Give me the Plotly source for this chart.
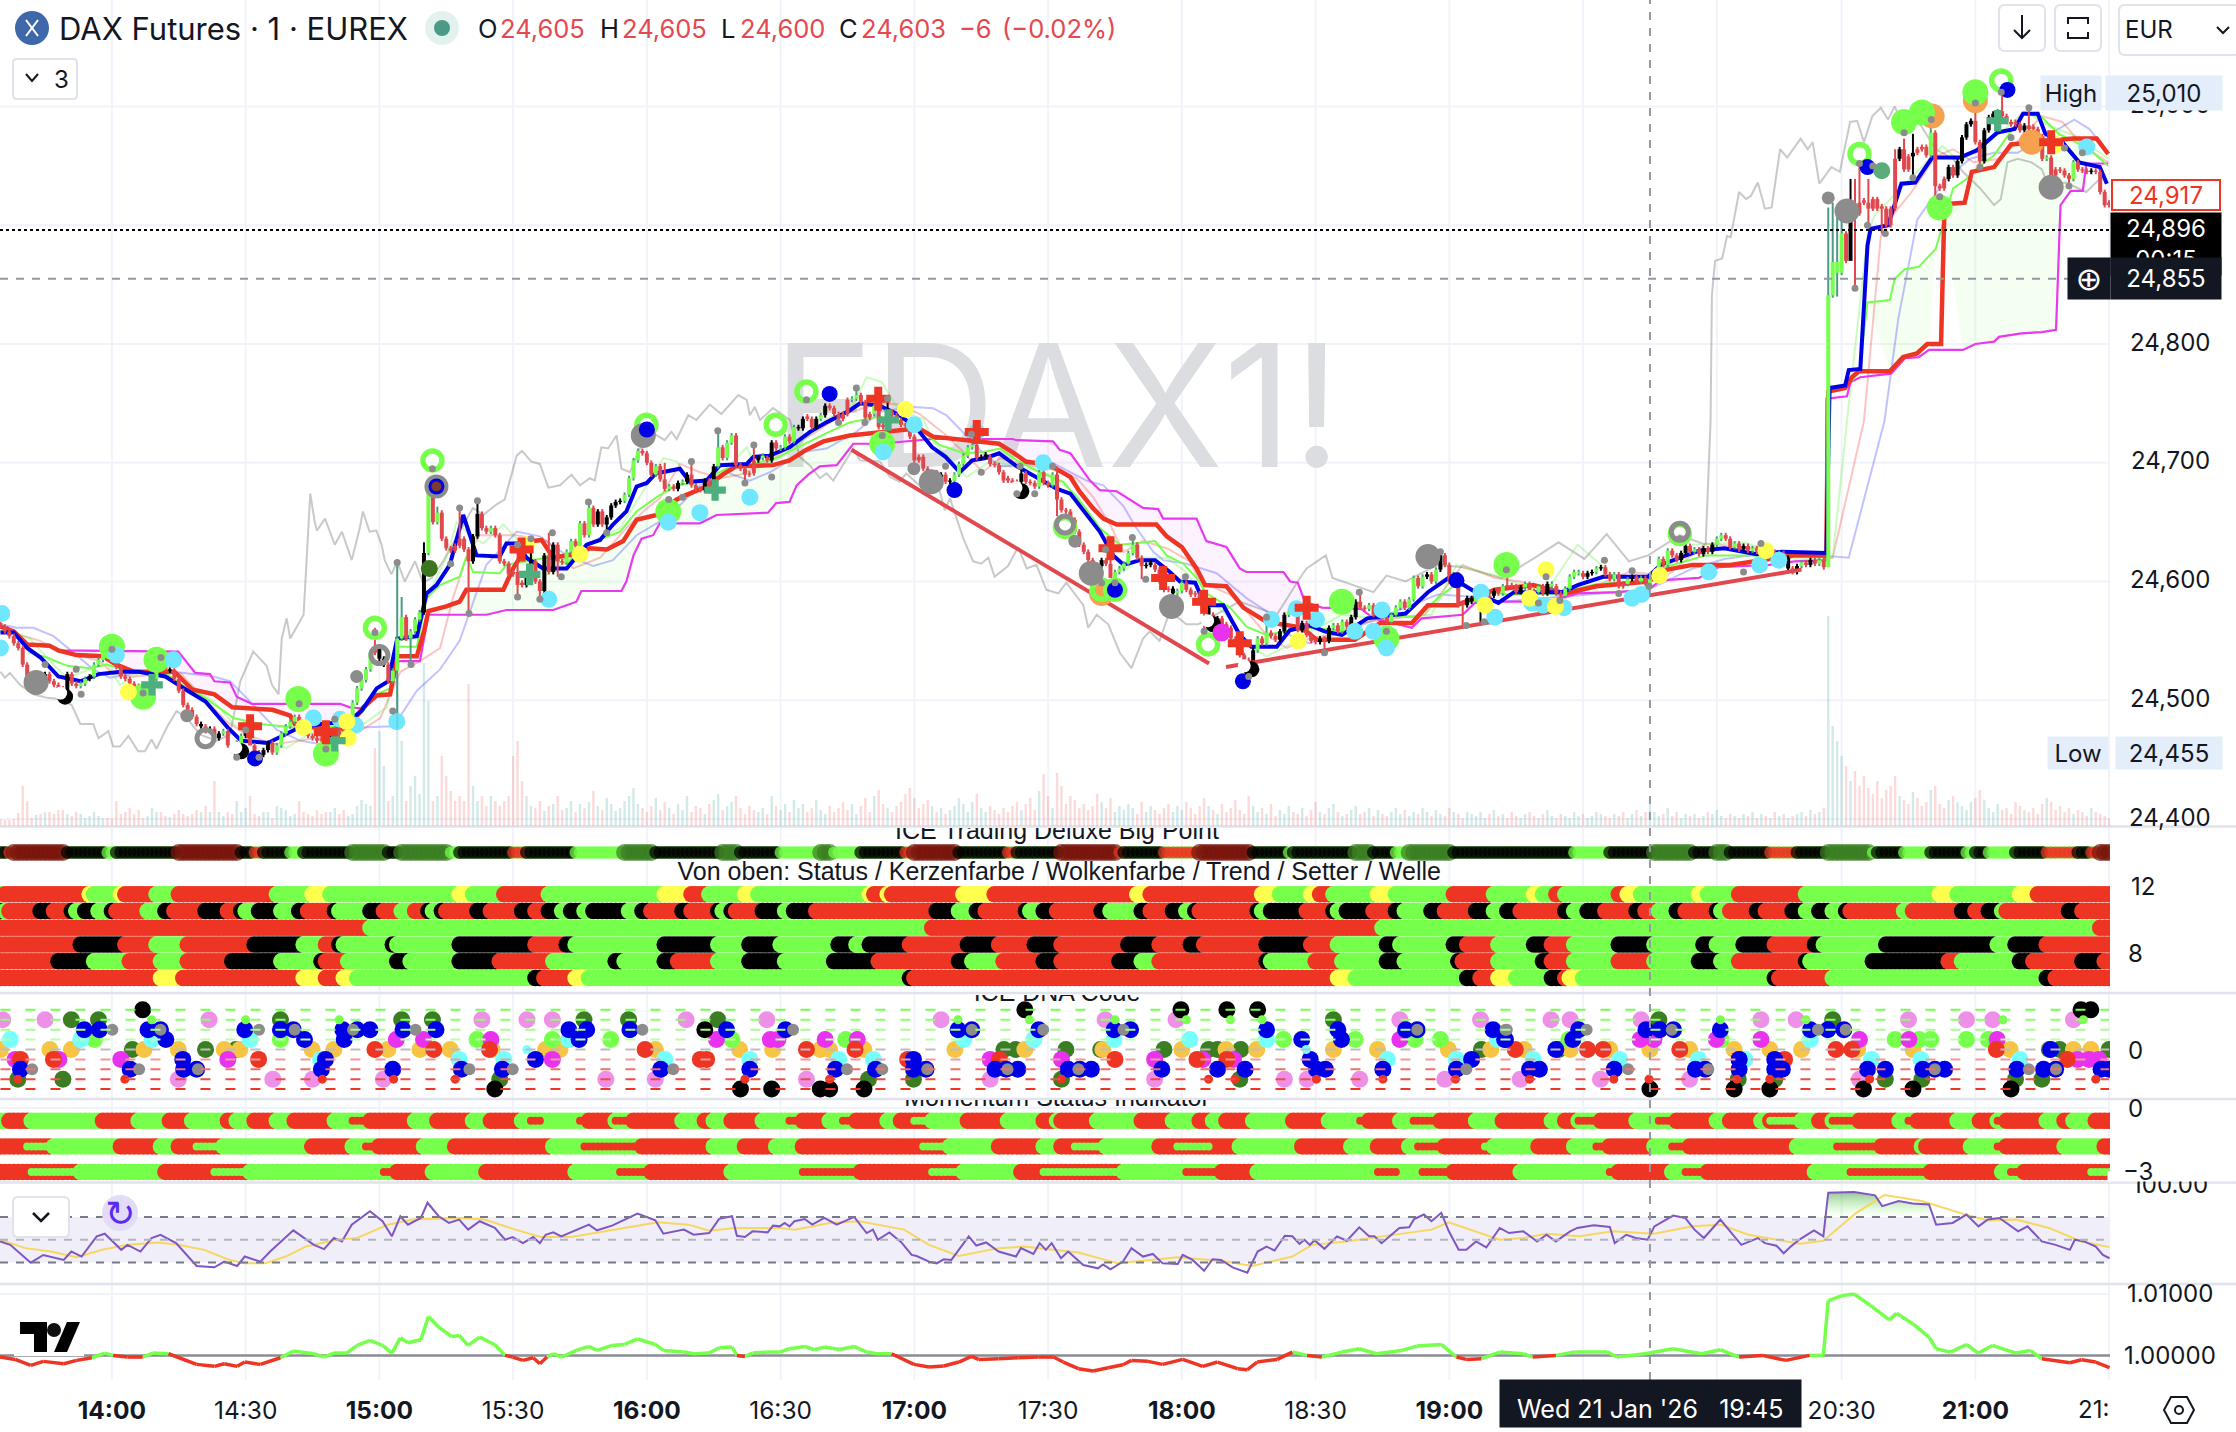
import plotly.graph_objects as go

# ---------- candles: (first minute after 14:00, closes, kinds r/g/k) ----------
candle_blocks = [
(-25,[24562,24558,24554,24548,24544,24530,24518,24515,24520,24518],"rrrrrrrrkr"),
(-15,[24522,24516,24513,24510,24508,24522,24514,24512,24514,24518],"krrrrkrrgg"),
(-5,[24520,24530,24534,24539,24541,24534,24528,24520,24518,24514],"kgggrrrrrr"),
(5,[24512,24510,24506,24510,24518,24526,24528,24526,24525,24518],"rrrgggrrkr"),
(15,[24508,24496,24492,24486,24480,24478,24474,24476,24468,24472],"rrrrrkrkrk"),
(25,[24474,24462,24458,24464,24470,24476,24462,24456,24454,24458],"grrkgkrrrk"),
(35,[24464,24456,24462,24472,24478,24482,24486,24480,24476,24470],"krgggggrrr"),
(45,[24468,24466,24468,24462,24470,24476,24470,24474,24484,24498],"rrrrkgrrgg"),
(55,[24510,24517,24526,24540,24545,24535,24530,24516,24525,24552],"ggggrkkrgg"),
(65,[24570,24552,24558,24568,24574,24624,24676,24650,24658,24636],"grgggkgrgr"),
(75,[24628,24626,24630,24636,24627,24617,24638,24657,24645,24642],"rrrrrrkkrr"),
(85,[24645,24639,24617,24615,24606,24608,24597,24597,24607,24617],"grrrrrrrkk"),
(95,[24600,24592,24622,24608,24631,24617,24616,24625,24634,24630],"rrkrkrrggr"),
(105,[24649,24639,24662,24648,24659,24648,24654,24664,24667,24668],"grgrkrkkkk"),
(115,[24673,24687,24702,24710,24708,24700,24690,24697,24686,24678],"ggggrrrgrr"),
(125,[24680,24678,24683,24684,24690,24681,24678,24677,24685,24678],"grkgkrrrkr"),
(135,[24697,24713,24704,24717,24723,24698,24695,24690,24691,24702],"kgrggrrrrr"),
(145,[24704,24704,24702,24717,24712,24713,24722,24718,24730,24729],"kgrkrggrgk"),
(155,[24737,24737,24730,24737,24740,24748,24746,24741,24737,24741],"krrkgkrrrr"),
(165,[24753,24754,24757,24751,24738,24741,24748,24730,24730,24743],"rggrrrgrrk"),
(175,[24740,24736,24732,24731,24722,24702,24705,24695,24691,24692],"rrrrrrrrrk"),
(185,[24681,24690,24684,24685,24690,24699,24706,24713,24715,24704],"rkrkgggggr"),
(195,[24705,24705,24699,24698,24692,24685,24685,24683,24684,24691],"kkrrrrrrrk"),
(205,[24684,24683,24680,24692,24683,24681,24690,24669,24660,24659],"rrrgrrgrrr"),
(215,[24652,24642,24631,24625,24618,24614,24613,24618,24615,24603],"rrrrrrrkrr"),
(225,[24608,24611,24615,24624,24631,24620,24613,24614,24614,24610],"gggggrrkkr"),
(235,[24600,24593,24594,24590,24592,24599,24593,24589,24590,24582],"rrrkggrrrr"),
(245,[24578,24572,24566,24569,24564,24561,24552,24547,24538,24534],"rkrkrrrrrr"),
(255,[24522,24542,24552,24548,24557,24554,24551,24558,24572,24575],"rkgrgrrkkg"),
(265,[24575,24559,24565,24555,24550,24549,24552,24550,24561,24563],"rrkrrrkrkg"),
(275,[24558,24566,24562,24570,24583,24578,24577,24580,24572,24578],"rgrkkrrgrg"),
(285,[24570,24566,24572,24578,24583,24578,24585,24603,24596,24604],"rrgggrggrg"),
(295,[24606,24600,24610,24622,24614,24600,24606,24580,24580,24586],"krgkrrgrrk"),
(305,[24583,24589,24586,24586,24588,24592,24590,24596,24597,24596],"kgkgrkrgrr"),
(315,[24591,24595,24598,24592,24591,24596,24590,24598,24596,24590],"rkgrrgrkgr"),
(325,[24588,24594,24604,24608,24607,24604,24607,24608,24611,24612],"rggggrkkgk"),
(335,[24606,24602,24606,24596,24598,24602,24604,24600,24603,24598],"rrgrrgkrgr"),
(345,[24602,24608,24619,24614,24626,24622,24618,24624,24630,24625],"gggrgrrkkr"),
(355,[24627,24623,24628,24625,24631,24636,24639,24636,24629,24632],"grkrkggrrg"),
(365,[24627,24630,24626,24628,24625,24628,24622,24625,24620,24624],"rkrgrgrkrg"),
(375,[24620,24611,24608,24613,24616,24614,24618,24615,24618,24612],"rkrkgrkrgr"),
(385,[24841,24869,24860,24893,24870,24914,24910,24919,24919,24914],"ggggrkrrrr"),
(395,[24922,24914,24914,24900,24914,24956,24964,24947,24958,24961],"rrrrrrkrrk"),
(405,[24964,24966,24959,24978,24933,24931,24939,24949,24942,24954],"rrrgrrrkrk"),
(415,[24974,24985,24988,24970,24954,24980,24991,24994,24996,24992],"kkkrrkkkgr"),
(425,[24987,24985,24985,24980,24984,24981,24981,24975,24956,24957],"rrrrkrrrrg"),
(435,[24942,24947,24946,24942,24939,24953,24947,24946,24945,24946],"rrrrrgrrrk"),
(445,[24945,24928,24917,24917],"rrrr"),
]
candle_highs = {64:24617,65:24587,59:24561,70:24633,71:24680,73:24663,78:24662,82:24668,91:24631,94:24636,98:24641,107:24669,124:24700,130:24701,136:24727,144:24715,167:24763,174:24754,194:24724,204:24697,212:24697,224:24627,229:24637,259:24570,280:24591,298:24625,313:24610,385:24915,386:24919,387:24911,388:24919,390:24939,391:24939,392:24952,394:24939,400:24964,402:24973,404:24977,408:24989,418:25003,424:25012,430:24999}
candle_lows = {48:24459,31:24462,64:24482,65:24550,67:24530,80:24573,91:24587,96:24585,100:24604,111:24641,142:24683,212:24655,204:24674,224:24603,231:24602,245:24558,255:24520,272:24540,303:24563,307:24566,385:24612,387:24840,390:24890,391:24847,394:24900,397:24893,404:24940,409:24924,419:24949,435:24938,439:24933}
volume_blocks = [
(-25,[7,6,6,7,13,40,25,8,11,12]),(-15,[14,14,12,16,16,12,10,14,12,8]),(-5,[10,14,10,8,8,8,25,12,14,18]),
(5,[12,16,8,10,18,14,14,10,9,12]),(15,[16,12,10,12,16,14,20,14,45,14]),(25,[10,14,12,25,14,18,30,12,10,14]),
(35,[14,8,20,18,16,10,12,25,14,12]),(45,[10,16,12,14,14,18,12,16,10,12]),(55,[20,26,22,20,78,95,60,25,30,150]),
(65,[85,25,40,50,32,163,125,25,30,70]),(75,[50,35,25,30,25,142,40,25,30,20]),(85,[30,25,20,25,30,70,85,45,30,20]),
(95,[18,25,15,20,22,30,16,18,25,14]),(105,[22,18,24,35,20,16,28,22,15,18]),(115,[25,30,38,22,18,14,20,28,16,24]),
(125,[18,12,22,16,30,14,20,18,12,22]),(135,[26,32,16,20,24,30,18,12,20,16]),(145,[14,18,12,30,20,16,22,14,26,18]),
(155,[22,14,18,26,16,12,20,14,18,24]),(165,[16,22,12,20,28,14,30,36,22,18]),(175,[14,20,24,32,38,28,18,22,26,20]),
(185,[14,18,12,16,20,28,22,14,24,32]),(195,[18,14,20,16,12,18,14,20,24,16]),(205,[22,28,16,35,52,30,18,53,40,22]),
(215,[30,26,18,22,16,20,32,24,18,28]),(225,[14,20,16,22,18,12,24,14,20,16]),(235,[12,18,22,14,20,16,24,18,12,20]),
(245,[28,20,16,12,22,14,18,26,16,12]),(255,[30,20,14,18,12,22,10,16,12,20]),(265,[14,12,18,10,16,24,14,12,18,22]),
(275,[14,10,12,16,20,12,14,18,10,16]),(285,[12,10,14,18,12,16,10,14,12,18]),(295,[14,10,16,12,10,18,14,12,8,14]),
(305,[12,10,14,8,12,16,10,12,8,14]),(315,[10,8,12,14,10,8,12,16,10,8]),(325,[12,10,8,14,10,12,8,10,14,12]),
(335,[10,8,12,10,14,8,12,16,10,14]),(345,[22,14,10,12,18,10,14,8,12,10]),(355,[12,8,10,14,12,16,10,8,12,10]),
(365,[8,12,10,14,8,12,10,8,14,10]),(375,[12,8,10,12,14,10,16,12,14,18]),(385,[210,100,85,70,60,45,55,40,50,38]),
(395,[32,45,28,36,40,50,30,26,22,34]),(405,[28,20,24,36,40,22,18,26,30,24]),(415,[20,16,24,28,36,26,18,14,22,16]),
(425,[18,12,24,20,16,14,18,12,22,28]),(435,[24,16,20,14,18,12,16,14,10,18]),(445,[14,12,10,8]),
]
# ---------- indicator lines (minute, price) ----------
blue_line = [(-25,24557),(-22,24557),(-19,24544),(-16,24536),(-12,24520),(-7,24516),(-3,24522),(2,24524),(6,24524),(12,24520),(17,24508),(21,24499),(26,24477),(29,24466),(35,24464),(39,24471),(42,24477),(47,24480),(53,24482),(56,24491),(59.4,24510),(62,24516),(64,24552),(68.4,24554),(70.6,24590),(72.8,24597),(75.8,24614),(78.8,24656),(80.3,24639),(81.8,24622),(87,24621),(88.5,24632),(90.8,24632),(93,24620),(96.7,24611),(102,24611),(106.5,24631),(109.5,24635),(112.4,24648),(115.4,24659),(117.7,24680),(120,24683),(122,24691),(127.4,24695),(129.6,24684),(133.4,24685),(136.4,24698),(142.4,24699),(143.9,24705),(147.6,24706),(152,24713),(156.6,24726),(160.3,24734),(165.5,24744),(167.8,24750),(172.2,24748),(176.7,24740),(180.5,24729),(184,24713),(187,24705),(190.2,24692),(193,24702),(196,24704),(199,24708),(203,24697),(207.4,24688),(212,24678),(215,24674),(218.6,24656),(221.6,24642),(224.6,24622),(227,24614),(230.6,24618),(234,24618),(237.3,24608),(239.6,24600),(243,24599),(245.2,24580),(249.3,24580),(253,24555),(255.6,24545),(261.3,24545),(264.2,24559),(268.7,24563),(272,24558),(275.9,24555),(281.6,24569),(290.2,24573),(295.2,24591),(300.2,24604),(305.9,24591),(311,24582),(314.5,24591),(325.3,24591),(328.8,24597),(334.5,24604),(344.6,24604),(347.4,24614),(356,24626),(361.7,24628),(368.9,24623),(374.6,24625),(384.6,24624),(385.3,24763),(388.8,24765),(389.6,24778),(392.2,24779),(393.8,24883),(394.5,24897),(398.4,24900),(401.4,24935),(404.5,24936),(408.3,24957),(414.5,24957),(418.3,24963),(422.9,24978),(426.8,24981),(428.7,24994),(432,24994),(433.7,24977),(437.5,24970),(441.3,24953),(445.9,24949),(447.5,24935)]
red_line = [(-25,24562),(-22,24558),(-19,24547),(-14,24546),(-12,24542),(-8,24538),(-2,24537),(1,24530),(5,24524),(14,24524),(18,24509),(23,24505),(27,24494),(36,24492),(40,24487),(41,24480),(49,24475),(53,24477),(56.4,24494),(59.4,24504),(62.4,24505),(64,24537),(68.4,24537),(70,24558),(71,24575),(75,24579),(78,24583),(79.5,24593),(87.8,24593),(90,24611),(92.3,24625),(94.5,24634),(96.4,24635),(99,24620),(105,24624),(107.2,24628),(111,24627),(114.7,24634),(117.7,24652),(122.2,24656),(124.4,24663),(126.7,24669),(128.9,24673),(133.4,24680),(137,24690),(140,24697),(148.3,24698),(152,24702),(155.8,24711),(159.6,24718),(165.5,24723),(173,24726),(181,24729),(184.2,24722),(199,24716),(202,24709),(205,24701),(210.4,24698),(215,24688),(217,24676),(220,24662),(222.4,24653),(225.4,24648),(234.3,24648),(236.6,24638),(240,24629),(243.3,24611),(245.2,24597),(250,24596),(253.8,24578),(259,24566),(265.7,24562),(268,24558),(270.2,24551),(278.8,24551),(284.5,24565),(291.6,24565),(295.2,24580),(301.6,24580),(310.2,24593),(318.8,24597),(326,24590),(333,24596),(344.6,24600),(348.9,24610),(354.6,24614),(363,24614),(377.5,24622),(384.6,24622),(385,24760),(388.8,24763),(390.3,24772),(391.9,24777),(398.8,24777),(401.8,24789),(404.9,24792),(407.2,24800),(410.3,24800),(411,24905),(411.8,24918),(415.6,24919),(417.2,24945),(422.2,24949),(426,24968),(439.8,24973),(445.2,24973),(447.8,24960)]
magenta_line = [(-23.6,24562),(-19,24547),(-14,24545),(-11.6,24542),(14.9,24541),(18.7,24523),(22,24522),(23,24516),(26.5,24515),(28,24503),(31.4,24497),(51.2,24497),(53.4,24494),(56.4,24493),(59.4,24505),(62.4,24505),(64.3,24533),(69.1,24533),(71,24572),(84,24572),(88.5,24576),(99,24576),(102,24580),(104.2,24583),(105.3,24592),(114.3,24592),(115.4,24600),(117,24622),(118.8,24636),(121.4,24639),(122.9,24649),(131.9,24649),(135.6,24656),(147.2,24658),(149,24666),(152,24667),(153.6,24681),(156.2,24690),(158.8,24697),(162.6,24698),(166.3,24716),(172.3,24716),(184,24720),(202,24720),(203,24719),(211.1,24718),(212.6,24711),(215,24708),(219.4,24685),(221.6,24677),(225.4,24676),(231.3,24662),(234.7,24661),(235.8,24653),(243.3,24653),(245.5,24634),(250,24629),(253,24611),(254.5,24608),(262.8,24608),(264.3,24600),(266,24599),(267.6,24583),(271.4,24578),(280.2,24577),(283,24569),(291.6,24561),(293.8,24569),(303,24572),(306,24583),(321.7,24583),(328.8,24590),(337.4,24591),(344.6,24593),(347.4,24601),(356,24603),(360.3,24612),(371.8,24614),(377.5,24617),(384.4,24618),(384.6,24754),(389.2,24756),(390,24768),(392.2,24772),(399.1,24775),(402.2,24788),(405.3,24789),(407.6,24795),(415.2,24795),(418,24800),(422.2,24802),(423.3,24806),(428.3,24809),(432.9,24810),(436.1,24812),(437.1,24917),(439.4,24929),(442.1,24929),(442.9,24952),(447.8,24952)]
green_line = [(-25,24558),(-22,24558),(-18.4,24540),(-14.6,24536),(-10,24529),(-4.9,24527),(-1.2,24530),(2.6,24526),(12.3,24522),(16.8,24510),(20.5,24503),(23.5,24495),(27.3,24485),(33.2,24480),(40.7,24477),(46.7,24475),(52.7,24481),(55.7,24488),(59.4,24505),(62.4,24510),(64,24545),(68.4,24545),(70.6,24586),(73.6,24597),(78,24604),(79.5,24621),(81,24608),(87,24607),(88.5,24614),(97.5,24620),(102,24615),(106.5,24631),(114,24642),(117.7,24659),(122.2,24671),(126.7,24681),(131.9,24684),(137.9,24695),(143.9,24699),(149,24704),(155,24715),(160.3,24725),(165.5,24734),(172.2,24739),(176.7,24734),(182,24726),(185.7,24715),(191,24708),(195.4,24709),(199.2,24712),(203,24702),(208.2,24692),(213.4,24684),(217.9,24664),(221.6,24645),(226.1,24631),(229,24632),(234,24634),(236.6,24622),(240.3,24615),(243.3,24603),(245.5,24590),(250.8,24578),(254.5,24562),(259,24555),(264.2,24559),(268.7,24561),(277.3,24558),(283,24572),(293,24570),(297.4,24586),(301.6,24598),(306,24593),(313,24589),(324.5,24590),(333,24598),(343.2,24600),(347.4,24611),(357.5,24622),(368.9,24622),(377.5,24622),(384.7,24622),(385,24761),(389,24764),(392,24777),(393.8,24835),(398.8,24837),(399.9,24855),(402.2,24863),(405.3,24865),(409.1,24880),(411,24905),(413,24931),(416,24939),(419,24950),(422.2,24959),(425.2,24975),(429,24995),(432.9,24991),(436.7,24977),(440.6,24970),(444.4,24961),(447.8,24950)]
lavender_line = [(-25,24564),(-21.4,24561),(-17.6,24561),(-13.1,24554),(-7.9,24538),(-4.2,24526),(-0.4,24519),(5.6,24523),(13.8,24524),(22.8,24520),(26.5,24516),(30.2,24502),(37,24475),(42.2,24466),(46.7,24463),(52,24468),(55.7,24477),(63.2,24478),(68.4,24508),(73.6,24526),(78,24550),(84,24614),(90.8,24642),(96,24638),(102,24622),(108,24613),(112.4,24618),(117.7,24639),(122.2,24649),(125.2,24656),(131.9,24681),(137.9,24692),(143.1,24685),(147.6,24692),(155,24709),(160.3,24712),(167,24726),(172.3,24743),(179.7,24747),(184.2,24746),(187.2,24740),(191.7,24723),(194.7,24711),(199.2,24697),(202.9,24697),(210.4,24701),(214.1,24694),(218.6,24685),(222.4,24681),(226.8,24664),(229.8,24645),(233.6,24625),(235.8,24618),(241,24615),(247.8,24607),(254.5,24586),(259,24575),(265,24552),(268.7,24548),(278,24560),(297.4,24589),(306,24587),(311.7,24583),(321.7,24586),(333,24589),(344.6,24593),(354.6,24611),(361.7,24619),(373.2,24625),(389.6,24620),(397.6,24735),(400.7,24821),(405,24905),(411.4,24939),(416.8,24956),(422.2,24961),(427.5,24961),(440.2,24989),(443.6,24981),(447.8,24961)]
salmon_line = [(-25,24561),(-20.6,24555),(-16.1,24550),(-12.4,24543),(-7.9,24538),(-2.7,24533),(0.3,24522),(4.8,24520),(15.3,24523),(19.8,24505),(25.8,24482),(30.2,24471),(36.2,24463),(42.2,24466),(49.7,24471),(55.7,24474),(60.2,24485),(64.7,24524),(69.1,24533),(73.6,24544),(76.5,24586),(79.5,24620),(82.5,24639),(90.8,24639),(97.5,24634),(103.5,24611),(109.5,24620),(115.4,24645),(119.2,24659),(122.9,24670),(127.4,24699),(131.9,24692),(136.4,24687),(140.9,24690),(147.6,24702),(152.8,24715),(158,24726),(163.3,24740),(172.3,24750),(176.7,24749),(181.2,24741),(187.2,24723),(191,24709),(195.4,24692),(199.2,24704),(205.2,24698),(211.1,24694),(216.4,24687),(220.1,24671),(223.9,24648),(226.9,24625),(231.3,24634),(236.6,24628),(241.8,24617),(244,24600),(250.8,24589),(253.8,24578),(259,24555),(263.5,24544),(268.7,24552),(273,24555),(281.6,24566),(294.5,24572),(303,24614),(310.2,24603),(316,24600),(326,24586),(340.3,24608),(348.9,24605),(357.5,24632),(368.9,24628),(377.5,24622),(386,24620),(393,24735),(396.8,24891),(400,24911),(403.7,24928),(409.1,24958),(413,24964),(417.6,24953),(423.7,24956),(432.9,24992),(437.5,24987),(442.1,24967),(447.8,24953)]
pale_green_line = [(-25,24561),(-18.4,24552),(-13.9,24533),(-10.1,24519),(-4.2,24527),(-1.2,24531),(1.8,24513),(6.3,24523),(13.8,24523),(22.8,24499),(27.3,24480),(33.2,24464),(39.2,24460),(46.7,24477),(52.7,24477),(56.4,24480),(61.7,24494),(64,24550),(68.4,24552),(70.7,24586),(75.2,24622),(77.3,24650),(80.3,24639),(83.3,24632),(87.8,24648),(90.8,24636),(97.5,24606),(102,24617),(108,24634),(114,24645),(120,24681),(123.7,24704),(126.7,24701),(130.4,24681),(136.4,24690),(142.4,24713),(144.6,24695),(149.8,24704),(155,24718),(160.3,24737),(165.5,24743),(169.3,24772),(172.7,24768),(176.7,24743),(182,24737),(184.2,24718),(191.7,24688),(197,24701),(202.2,24698),(210.4,24690),(216.4,24673),(221.6,24645),(226.9,24608),(230.6,24620),(236.6,24620),(241,24608),(244,24592),(250,24572),(254.5,24547),(259,24537),(264.2,24547),(269.5,24559),(275.9,24572),(283,24569),(296,24572),(301.6,24614),(310.2,24605),(321.7,24591),(328.8,24631),(337.4,24603),(346,24603),(354.6,24631),(366,24633),(377.5,24619),(386,24620),(389.2,24735),(393.8,24891),(395.3,24908),(410.6,24967),(414.5,24953),(423.7,24978),(429,24996),(434.4,24984),(440.6,24975),(447.8,24956)]
gray_line = [(-25,24524),(-24,24519),(-22.9,24523),(-20.6,24513),(-17.6,24505),(-14.6,24502),(-11.6,24501),(-9,24496),(-7.1,24480),(-4.2,24480),(-3,24468),(-0.8,24474),(0.3,24461),(1.8,24461),(3.7,24470),(5.9,24457),(7.4,24457),(8.9,24467),(10,24459),(12.3,24477),(14.5,24491),(16.8,24485),(19.8,24471),(23.5,24466),(26.5,24471),(28.8,24516),(31.7,24541),(34.7,24529),(35.9,24513),(37.4,24505),(38.1,24552),(39.2,24569),(40,24552),(43,24572),(44.5,24674),(45.5,24650),(46,24643),(47.8,24653),(50,24631),(51.6,24642),(53.8,24618),(55.6,24645),(56.3,24659),(57.8,24642),(59.3,24643),(60.5,24631),(61.2,24618),(62.7,24606),(64,24617),(65.7,24600),(68,24617),(69.8,24599),(71.7,24603),(74.3,24617),(78,24642),(81,24662),(83.3,24656),(86.3,24665),(88.1,24669),(90.8,24706),(92,24710),(94.1,24701),(96,24699),(97.9,24679),(100.5,24681),(103.1,24690),(105,24681),(107.2,24687),(108.3,24685),(109.8,24713),(111.3,24712),(113.2,24723),(114.3,24695),(116.2,24692),(118.4,24712),(121.4,24725),(124,24719),(125.5,24726),(126.7,24720),(129.3,24740),(131.1,24736),(134.1,24749),(136.7,24741),(140.5,24757),(142.4,24753),(143.1,24740),(144.2,24747),(145.4,24736),(148.3,24746),(152.1,24736),(154.3,24705),(156.5,24698),(158.8,24687),(160.3,24691),(161.8,24685),(166.3,24712),(167.8,24702),(172.3,24701),(174.5,24688),(176.7,24684),(178.2,24691),(182,24678),(185.7,24676),(186.8,24660),(188,24670),(191,24636),(193.2,24617),(195,24615),(196.6,24620),(198,24604),(201,24613),(203.3,24629),(205.2,24611),(207.4,24614),(209.6,24593),(212.3,24590),(214.1,24599),(217.9,24580),(219,24561),(220.9,24572),(223.5,24564),(226.1,24540),(228.7,24527),(231.3,24552),(232.8,24558),(235,24550),(237.3,24575),(241,24564),(243.7,24564),(253,24583),(256.8,24578),(261.3,24572),(266.5,24603),(268,24611),(272.3,24622),(273.8,24603),(283,24591),(285.9,24605),(290.2,24600),(297.4,24614),(303,24612),(311.7,24603),(318.8,24619),(324.5,24633),(330.3,24619),(335.3,24640),(340.3,24617),(344.6,24622),(351.7,24639),(357.5,24631),(358.6,24735),(358.9,24841),(359.6,24870),(361.2,24872),(362.3,24891),(363.1,24890),(365,24928),(366.6,24922),(367.7,24925),(369.2,24936),(370.8,24914),(372.3,24915),(374.2,24964),(375.8,24957),(378.8,24973),(380.4,24964),(381.5,24970),(383,24935),(385.7,24949),(387.6,24945),(389.9,24987),(391.5,24988),(393,24970),(394.9,24992),(396.8,24999),(398.4,24989),(399.9,25000),(402.2,24981),(405.3,24987),(409.1,24964),(413,24956),(415.2,24945),(419.1,24931),(422.2,24917),(423.7,24922),(425.2,24953),(427.5,24956),(430.6,24953),(432.9,24947),(434.4,24933),(438.2,24936),(442.9,24928),(446.7,24942)]
trend_down = [(165.9,24711),(246.1,24531)]
trend_up = [(249.9,24528),(379,24610)]
# ---------- main-pane signals (minute, price) ----------
sig_lime = [(0,24545),(10,24534),(7,24503),(41.8,24501),(48,24455),(124.8,24659),(172.8,24716),(275.9,24583),(285.9,24552),(312.8,24614),(402,24987),(406,24995),(418,25012),(410,24915)]
sig_lime_ring = [(59,24561),(71.9,24702),(119.9,24732),(148.9,24732),(155.8,24760),(245.9,24547),(222,24593),(225,24593),(213.8,24646),(351.7,24640),(392,24960),(423.8,25022)]
sig_gray_ring = [(60,24538),(21,24468),(213.8,24648),(351.7,24642)]
sig_orange = [(408.3,24992),(418,25005),(430.6,24970),(222,24590)]
sig_blue = [(32.1,24451),(72.8,24680),(120,24728),(161,24758),(189,24677),(225,24593),(253.7,24516),(301.6,24601),(393.8,24949),(425.2,25014)]
sig_gray = [(-17,24515),(119.2,24723),(183.8,24684),(219.7,24607),(237.7,24579),(295.2,24621),(435,24932),(389.2,24912)]
sig_gray_halo = [(72.8,24680)]
sig_dark_red = [(72.8,24680)]
sig_gray_mid = [(16.8,24487),(54.9,24520),(179.9,24695),(216,24634),(385,24923)]
sig_cyan = [(-24.7,24573),(-25,24544),(1,24538),(13.8,24534),(45.2,24485),(51.2,24484),(54.6,24479),(63.9,24482),(98,24585),(124.8,24650),(131.9,24658),(143.1,24671),(173,24709),(180,24732),(194,24726),(208.9,24700),(260.1,24568),(265.7,24577),(270.2,24568),(278.8,24558),(284.9,24576),(283,24558),(285.9,24544),(307.1,24591),(310.2,24570),(318.5,24582),(321,24580),(325.7,24578),(341,24586),(343.1,24589),(358.2,24608),(369.6,24614),(373.9,24618),(443,24966)]
sig_yellow = [(3.7,24507),(43,24477),(53,24468),(52.7,24482),(93,24631),(105,24623),(178,24745),(266.1,24550),(321.7,24610),(308,24580),(318,24586),(323.8,24579),(347.2,24605),(371,24626),(436,24968)]
sig_red_cross = [(31,24478),(48,24473),(91.9,24627),(171.9,24754),(194,24726),(224,24628),(235.8,24603),(245,24583),(268,24578),(253,24548),(435,24970)]
sig_green_cross = [(9,24513),(50,24466),(93.7,24606),(135.3,24677),(174.1,24736),(423,24988)]
sig_dark_green = [(71.2,24611)]
sig_mid_green = [(397,24946)]
sig_black = [(-10.5,24503),(29,24457),(204,24676),(247,24564),(255.6,24526)]
sig_black_cut = [(-11.5,24506),(27.8,24460),(202.8,24679),(245.8,24567),(254,24529)]
sig_magenta = [(248.9,24557)]
sig_small_gray = [(-15,24530),(-8,24526),(-6.9,24505),(0,24543),(11,24536),(7,24506),(28,24452),(30,24475),(33,24452),(42,24497),(48,24459),(50,24484),(59,24557),(64,24616),(63,24491),(67.1,24530),(76,24615),(80.1,24573),(91,24587),(91,24631),(71.9,24695),(78,24662),(82,24668),(94,24636),(96,24585),(98.8,24641),(100.8,24604),(106.9,24667),(111,24641),(124.9,24669),(128,24671),(130,24701),(135.9,24727),(142,24683),(144,24715),(148,24688),(155.8,24753),(167,24763),(163,24734),(168.9,24734),(172.8,24723),(174,24754),(192.8,24724),(195,24692),(187,24697),(203.7,24697),(203,24674),(207,24674),(211,24697),(222.9,24627),(228.9,24637),(225,24599),(222,24599),(231.9,24602),(240.8,24604),(236,24581),(245,24558),(255,24520),(259,24570),(272,24540),(279.8,24591),(285.9,24558),(298,24625),(312.8,24610),(303.8,24563),(307.8,24566),(320,24582),(321.7,24604),(324.8,24584),(334.8,24618),(338,24590),(341,24609),(344.8,24596),(351.7,24636),(369.9,24632),(366,24608),(391,24847),(392,24952),(393.8,24900),(395,24950),(397.8,24893),(402,24978),(404,24940),(408.1,24989),(410,24924),(418,25003),(419,24949),(423.8,25012),(426,24974),(430,24999),(435,24938),(438,24965),(439,24933),(442,24961)]
# ---------- status rows: (colour code, last minute of the run) ----------
big_point = [('k',-23.4),('r',-22.6),('d',-10.8),('k',-1.6),('l',0.1),('k',14.9),('d',28.4),('k',31.5),('r',33.8),('k',39.5),('l',42.6),('k',53.3),('g',61.3),('k',64.1),('g',75.6),('l',77.9),('k',89.3),('r',92.7),('k',95.3),('k',103.3),('l',114.3),('g',121.6),('k',136.2),('g',140.2),('k',149.4),('l',157.6),('g',157.6),('l',158.2),('g',161.7),('l',167.7),('k',177.5),('r',179.3),('d',189.3),('k',200.1),('r',202.5),('k',206.3),('r',206.8),('k',212),('d',225.9),('r',226.6),('k',235.1),('r',243.1),('d',255.7),('k',263.3),('l',264.7),('k',275.3),('l',275.6),('k',278.2),('g',282),('k',287.2),('l',290.2),('g',300),('k',303.1),('l',303.6),('k',327.3),('l',335.4),('k',345.9),('g',354.3),('k',359.2),('g',362.3),('k',366.3),('r',366.8),('k',371.2),('r',377.8),('k',384),('g',394.7),('l',395.8),('k',401.1),('l',407.6),('k',415.3),('l',417.8),('k',420.3),('l',426.7),('k',433.3),('r',440.7),('k',443.2),('r',445.3),('d',449)]
row1 = [('l',-24.5),('r',-5.6),('y',-4.5),('l',1.8),('y',2.4),('r',9.2),('l',14.4),('r',36.7),('l',44.7),('y',48.1),('l',77.3),('y',80.7),('l',87.6),('r',97.3),('l',123.6),('y',129.4),('r',133.4),('l',141.4),('y',144.2),('l',169.7),('y',170.3),('r',173.9),('y',174.4),('r',190.9),('y',197),('r',229),('y',232.3),('r',257.8),('y',261.1),('l',268.6),('y',270.4),('r',273.2),('l',283.5),('y',287.2),('l',300.5),('r',309.8),('l',318.6),('y',320.2),('l',323.5),('r',325.5),('l',337.5),('r',339.7),('y',342.4),('l',355.7),('y',357.2),('l',364.5),('r',379.6),('l',409.6),('y',413.3),('l',427.7),('y',431.3),('r',449)]
row2 = [('k',-24.2),('l',-24),('r',-16.2),('k',-13.7),('r',-9.1),('k',-8.3),('l',-6.8),('k',-3.4),('l',-0.5),('k',0.6),('r',7.9),('l',11.3),('k',13.8),('r',20.7),('k',25.2),('r',28.7),('k',29.8),('l',32.3),('k',37.8),('l',41.3),('k',43.5),('r',49.8),('k',50.6),('l',57),('k',60.1),('r',64.7),('l',67.3),('r',70.8),('k',71.7),('l',73.3),('k',74.4),('r',81.9),('k',84.2),('r',91.6),('k',94.5),('r',97.9),('k',100.8),('l',102.2),('k',105.9),('l',107.4),('k',115.6),('l',118.2),('k',120.4),('r',127.6),('k',129.9),('r',135.7),('k',136.8),('l',138.3),('k',139.7),('r',145.9),('k',150),('l',152.2),('k',157.4),('r',184.7),('k',189.8),('l',193.4),('k',195.3),('r',204.8),('k',205.6),('l',208.4),('k',211.5),('r',221.8),('k',223.8),('l',230.3),('k',232.3),('r',237.7),('k',240.6),('l',242.5),('k',243.4),('r',256.8),('k',257.6),('l',259.3),('k',267.1),('r',273.8),('k',274.6),('l',276.3),('k',282.3),('r',287.7),('k',289.7),('l',295.4),('k',298.2),('r',305.7),('k',309.6),('l',312.2),('k',315.3),('r',322.1),('r',325.5),('k',327.7),('l',330.1),('k',334.2),('r',341.7),('k',343.2),('r',346.8),('l',350.2),('k',352.3),('r',359.7),('k',360.5),('l',362.3),('r',368.8),('k',370.2),('r',376.8),('k',379.6),('l',382.3),('k',385.7),('l',388.3),('k',389.2),('r',401.6),('l',403.1),('r',414.7),('k',417.3),('r',420.7),('k',423.7),('l',424.3),('r',438.6),('k',441.3),('r',449)]
row3 = [('r',57.6),('l',183.3),('r',284.6),('l',445.3),('r',449)]
row4 = [('r',-7.4),('k',2.4),('r',9.8),('l',16.7),('r',31.8),('k',42.4),('l',47.6),('r',50.4),('k',51.3),('l',62.4),('k',63.9),('l',77.5),('k',94.5),('r',101.7),('k',103.3),('l',123.4),('k',135.3),('l',142.5),('k',149.4),('l',162.5),('k',166.5),('l',169.7),('k',178.2),('r',191.6),('k',198.4),('r',206.8),('k',212.2),('r',227.6),('k',234.1),('r',241.6),('k',244.4),('r',258.5),('k',268.1),('r',274.3),('l',285.6),('k',288.2),('l',300.5),('k',303.3),('r',310.3),('l',318.4),('k',322.1),('r',327.4),('l',337.7),('k',345.2),('l',356.7),('k',359.2),('l',365.6),('k',372.3),('r',381.7),('k',383.2),('l',397.6),('k',422.2),('l',426.7),('k',433.3),('r',449)]
row5 = [('r',-12.3),('k',-4.5),('l',3.5),('r',10.6),('l',16.7),('r',26.6),('k',37.5),('l',46.8),('k',47.6),('r',52.7),('l',63.6),('k',66.4),('l',77.6),('k',86.2),('r',98.7),('l',112.5),('k',114.5),('l',123.4),('k',126.5),('r',135.7),('l',142.5),('k',150.5),('l',161.5),('k',171.3),('r',189.8),('k',192.2),('l',199.6),('r',208.7),('k',212.2),('r',225.9),('k',230.2),('l',234.6),('r',258.8),('k',259.3),('l',269.9),('r',275.3),('l',285.6),('k',289.2),('l',301.6),('k',302.2),('r',310.8),('l',320.6),('k',322.1),('r',327.4),('l',337.7),('r',345.9),('l',355.7),('k',360.3),('l',364.5),('r',379.6),('k',380.2),('l',394.7),('k',411.1),('r',414.7),('l',427.7),('k',430.4),('r',441.7),('k',446.2),('r',449)]
row6 = [('r',10.4),('y',15.5),('r',42.4),('y',47.6),('r',51.3),('y',54.4),('l',94.5),('k',96.4),('r',103.3),('y',106.5),('l',178.2),('k',179.5),('r',274.3),('y',278.4),('l',303.3),('k',306.4),('r',310.3),('y',314.4),('l',322.1),('k',325.5),('r',326.4),('y',329.5),('l',372.3),('k',373.4),('r',385.7),('l',433.3),('k',435.3),('r',449)]
# momentum rows: r red, l lime, t thin red on lime, n thin lime on red
mom1 = [('l',-23.4),('r',-18.2),('l',-2.8),('r',5.2),('l',12.1),('r',17.2),('l',25.2),('r',27),('l',31.5),('r',36.7),('l',40.3),('r',49.3),('l',53.3),('t',57.3),('r',67),('l',72.2),('r',80.7),('l',84.2),('r',91),('l',93.9),('t',96.2),('l',104.2),('t',106.5),('r',112.2),('t',116.2),('r',127.6),('l',132.8),('r',134.5),('l',138.5),('r',145.4),('l',151.7),('t',154.3),('r',160.5),('l',163),('t',166.7),('r',173.7),('l',176.8),('r',179),('n',183.7),('l',191.9),('r',200.3),('l',208.4),('r',211),('l',212),('r',220.2),('l',230.5),('r',237.2),('l',243.4),('r',246.2),('l',249.6),('r',255.2),('l',264.5),('r',272.7),('l',279.1),('t',281.5),('r',288.7),('l',291.3),('t',297.5),('r',305.2),('l',311.9),('r',322.7),('l',325.9),('r',328),('t',333),('r',341.7),('l',346.1),('t',350.3),('r',359.7),('l',362.8),('r',369.9),('l',371.6),('n',378.3),('l',382.1),('r',385.7),('t',391.6),('r',400.7),('l',402.3),('t',404.6),('r',413.8),('l',418.2),('r',422.9),('t',424.4),('r',433.3),('l',437.7),('r',439.1),('l',444.4),('r',449)]
mom2 = [('r',-20),('n',-13.1),('l',1.4),('r',10.9),('l',14.4),('r',18.4),('n',24.1),('l',43.3),('t',44.7),('r',53.8),('l',56.4),('t',59.6),('r',69.9),('l',76.7),('r',87.6),('r',98.8),('l',105.3),('t',118.5),('r',134.5),('l',141.7),('r',148.8),('l',154.3),('r',181.1),('n',187.3),('l',198.6),('r',208.4),('l',212),('r',215.1),('n',222.3),('l',234.6),('r',238.2),('n',246.5),('r',252.1),('l',266.6),('r',277.7),('l',283.5),('r',290.8),('l',292.3),('t',298),('r',307.2),('n',309.8),('l',319.5),('r',327.7),('l',332.4),('t',335.3),('r',345.5),('l',349.2),('t',353.4),('r',377.8),('l',386.3),('t',396.5),('r',405.8),('l',406.7),('r',416.9),('l',422.2),('t',424.4),('r',437.7),('l',446.6),('r',449)]
mom3 = [('r',-18.8),('n',-7.9),('l',11.5),('r',22.4),('n',30),('l',60.1),('t',62.1),('l',63),('r',71.6),('l',83),('r',103.6),('l',113.1),('t',120.8),('r',138.5),('l',154.3),('t',167.2),('r',183.1),('n',190.9),('l',203.7),('r',208.9),('n',226.9),('l',240.3),('t',248.5),('r',256.3),('l',283.5),('t',288.7),('l',293.8),('t',300.5),('r',315.7),('l',335.1),('t',337.9),('r',349.9),('l',352.1),('t',357),('r',381.8),('l',389.2),('t',407.6),('r',423.8),('l',425),('t',428.9),('r',443.1),('n',449)]
# ---------- DNA code dots: {level: [minutes]} ----------
dna_pink = {3:[-24.5,-15,21.8,83,93.1,98.8,128.8,146.9,186,222.8,238.7,288.9,307,322.8,327.1,343,369.9,377.8,403,416,421.9,440],-3:[14.9,36.1,45,60.9,110.8,121.9,155.8,197,233.9,263,268.1,279.9,299,315.9,333.9,353.9,392]}
dna_dark_green = {3:[-9.1,-3,37.8,65,71.9,105.9,115.9,135.9,274,347,386],0:[4.6,21,27.8,200.1,202.7,214,221.8,236,246,248,253.2,307.2,324.6,434.6,436.9,448],-3:[-21.1,-11,87,169.7,179.8,213,253,364.8,373,397.8,406,427,432.9]}
dna_orange = {0:[-25,-13.9,-9.1,7.2,14.9,25.2,28.7,44.9,49.8,61.9,69.1,75.9,85.3,97.3,100.5,121.9,140.8,148.2,158.9,161,168.7,189.1,204.8,222.3,240,249.9,256.8,274,283.9,299.8,309.3,316.8,327.1,336,345,353.9,363.9,371.9,379,391.6,404,425.8,440,443.9]}
dna_lime = {1:[-3.9,37.8,81.9,98.8,102.5,111.9,139.1,164.6,262.8,278.9,292.3,298,326.8,361,400,405.4,408,416,420.9]}
dna_cyan = {1:[-22.8,-7,9,31,102.5,191.1,206.8,224.8,241.8,259,310.8,381],-1:[46.8,77.9,87.9,124,143.1,163,170.8,286.1,301.6,318.8,338.2,355.9,366.3,394.7,405.8,428]}
dna_magenta = {-1:[-21.7,-11.9,2,26,98.8,197,213,233.9,244.7,251.6,440.9,443.5,445.7],1:[63.8,69.9,85,135.6,147.7,149.4,160,167.2,288.9,342.8,345.9,359.9,369.9,392,403.1,422.9]}
dna_red = {-1:[-20.5,-13.1,32.9,132,133.4,178.5,199.1,225,243.4,250.1,365,375.2,438.6],0:[59,72.2,119.6,84.7,155.8,166.7,314.8,331,334.5,351.7,386.7,390.3,422.7]}
dna_blue = {2:[-6.2,-2.8,8.1,10.9,29.8,37.8,40.7,51.8,55,57.9,65.3,72.7,102.5,106.5,116.2,137.9,151.1,189.8,192.9,207.9,224.8,228.5,259,275,290.2,292.8,309.8,329,344.1,347.2,350.3,360.8,381,384.9,388.5],1:[12.1,43.2,52.1,104.8,275.8,312.4,266.9,327.7,312.6],0:[323.9,434.9],-1:[15.9,47.9,95,179.8,268.8,305,365,373],-2:[-20.5,4.1,16.1,19,47,63,78.4,87.6,123.1,143.1,162.3,171.3,179.8,182.6,198.1,200.6,203.2,214.5,217.1,219.7,235.5,248,254.2,270.2,272.2,285.1,301.6,318,320.2,337,355.2,357.4,365,373,374.7,393.8,397.8,406.2,408.9,411.1,427.3,433.3,436,446.2,448]}
dna_black = {4:[6.9,204.8,239.8,250.1,257,441.7,443.9],2:[133],-4:[85.9,141,148,158.9,161,168.7,345,363.9,371.9,392.9,404,426]}
dna_gray = {2:[0.1,10.9,33,41,54.1,68.1,119,152.8,192.9,208.9,226.9,292.8,312.9,312.6,330.8,349.9,382.7,388.9],-2:[-17.9,6.1,19.3,80.2,89.9,125.9,164.9,172.8,182.9,200.9,216.8,303.8,340.1,358.1,408.9,430,436.1]}
dna_small_lime = {3:[8.9,30,51,189.8,205.8,225,241,250.9,258,360.8,380,424.2,442.2]}
dna_small_red = {-3:[-21.1,2.9,47.2,63.2,77,142,161,213,246,251.9,270.2,285.1,301.4,318,336.9,344.8,364.5,371.9,394.3,445]}
dna_small_cyan = {0:[93.1,267.9]}
dna_levels = [4,3,2,1,0,-1,-2,-3,-4]
dna_level_colors = ["#76ff4b","#8cff6a","#a4ff8a","#bcffa8","#bdbdbd","#f29a96","#ef6f69","#ee4d45","#ee3524"]
# ---------- RSI and money-flow ----------
rsi_line = [(-25.1,48.5),(-22.8,45.5),(-18.2,29.8),(-15.4,36.6),(-10.8,32.2),(-9.1,39.6),(-6.8,35.2),(-3.4,53),(-1.6,55.3),(0.6,47),(2.1,41.1),(3.5,45.5),(6.4,39.6),(8.9,51.5),(10.9,54.4),(14.4,47),(19,26.9),(23,25.7),(25.2,30.7),(28.1,26.9),(29.8,35.2),(33.3,30.7),(35.5,39.6),(40.7,58.3),(43.6,50),(45.3,45.5),(47.6,41.7),(49.8,51.5),(51.6,48.5),(53.8,63.3),(57.9,75.2),(60.7,66.3),(62.8,53),(64.7,70.7),(66.4,63.3),(69.3,69.2),(70.8,82.6),(73.3,70.7),(75.6,64.8),(77.9,67.8),(79.9,58.9),(82.5,66.3),(85.9,60.4),(88.2,50),(89.9,52.4),(92.2,47),(94.5,52.4),(96,47),(97.3,54.4),(99,56.5),(100.8,53),(104.2,58.3),(107,63.3),(108.8,58.3),(112.2,62.4),(117.9,73.1),(121.9,67.2),(123.7,55.3),(128.3,58.9),(130.5,54.4),(134,55.9),(136.2,68.4),(139.1,70.7),(140.2,53.5),(142,52.4),(143.7,57.4),(147.1,56.5),(148.3,62.4),(149.8,61.8),(150.9,64.8),(152,61.8),(153.1,66.3),(155.4,68.3),(157.1,63.3),(159.8,69.2),(162.6,63.3),(166.5,70.1),(169.3,55.9),(170.7,58.9),(171.8,50),(174.4,56.5),(177.1,47.6),(179.4,36.6),(180.5,35.7),(183.3,30.7),(185,29.2),(186.6,32.8),(188.3,32.2),(192.2,52.9),(193.9,44.9),(196.1,47.6),(198.9,39.6),(202.8,35.2),(203.9,42.6),(206.7,37.5),(208.1,47),(209.5,41.1),(210.8,47),(212.9,33.7),(214.5,39.6),(217.9,27.7),(221.2,24.8),(222.3,28.3),(224,23.9),(226.8,30.7),(228.7,42.6),(231.3,35.2),(233.5,37.5),(235.7,29.2),(239.1,28.6),(240.2,36.6),(242.4,32.2),(245,22.7),(246.9,32.8),(248.8,32.2),(251.4,25.7),(254.7,21),(257,39.6),(259,44),(260.8,40.5),(263.1,53.5),(264.8,53),(266.4,46.4),(267.5,50),(268.7,45.5),(269.8,49.4),(272,42),(274.8,53),(277,49.1),(279.8,60.9),(282,53),(283.2,53),(284.8,47),(288.8,60.3),(291,60.9),(292.1,68.3),(294.3,72.2),(296,66.3),(298.2,73.7),(299.9,57.4),(302.1,41.1),(303.8,41.1),(306,48.5),(308.3,43.2),(311.3,60.4),(313.4,55.9),(316.6,57.4),(319.7,48.5),(321.8,54.4),(323.9,48.5),(327.1,57.4),(328.7,60.4),(332.4,62.7),(336,61.2),(337.1,47),(339.7,54.4),(341.8,51.5),(344.5,50),(346,61.8),(350.2,71.3),(352.9,69.2),(355,58.9),(357.1,51.5),(360.8,67.8),(363.4,55.9),(365.5,45.5),(369.2,51.5),(370.8,47),(373.4,44.7),(375,38.1),(376.6,44),(378.7,50.6),(381.8,58.3),(383.9,53),(385,91.5),(390.8,92.1),(395.5,89.1),(397.1,79.6),(400.8,84.1),(403.9,82),(407.6,81.1),(409.2,63.3),(412.9,64.8),(416,72.2),(418.7,61.8),(420.8,67.8),(423.4,69.2),(425,64.8),(427.6,57.4),(429.7,61.8),(432.9,48.5),(436,45.5),(439.2,41.1),(440.3,50),(442.4,48.5),(445,44),(446.6,36.7),(448.1,33.7)]
rsi_ma = [(-25.1,50),(-19.4,42.6),(-13.7,39.6),(-7.9,34.6),(-2.2,41.1),(3.5,45.5),(10.4,47.6),(14.9,45.5),(20.7,41.1),(26.4,32.2),(29.8,29.2),(34.4,29.2),(39,35.2),(43.5,44),(50.4,50),(55,51.5),(61.9,63.3),(67.6,67.8),(77.9,69.2),(83.6,67.8),(90.5,58.9),(96.2,52.4),(103,52.4),(112.2,58.3),(122.5,65.4),(129.4,63.3),(134,58),(139.7,60.4),(149.8,60.3),(153.1,58.9),(161,64.8),(167.7,66.3),(177.7,58.9),(183.3,45.5),(190,35.7),(198.9,42.6),(204.5,44),(216.8,38.7),(225.7,29.2),(239.1,34.6),(249.1,31.3),(255.8,26.9),(264.8,35.2),(269.2,45.5),(277,48.5),(283.7,52.3),(296,58.9),(299.9,65.4),(306,57.4),(311.3,50),(316.6,51.5),(321.8,55.3),(329.2,53),(336.6,57.4),(346,55.3),(354.5,61.8),(360.8,63.3),(367.1,54.4),(378.7,46.4),(383.9,49.1),(391.3,73.7),(397.6,89.4),(406,84.1),(414.5,73.7),(420.8,66.9),(427.1,67.8),(434.5,60.4),(441.8,48.5),(448.1,43.5)]
# deviation from 1.00000 in units of 0.00001
flow_line = [(-25.1,-27),(-21.7,-65),(-18.2,-162),(-15.4,-97),(-10.8,-135),(-7.9,-81),(-4.5,-38),(-1.6,38),(0.3,0),(3.5,-27),(6.9,-27),(9.2,38),(12.7,27),(19,-146),(23,-178),(25.2,-135),(28.1,-178),(29.8,-108),(33.3,-146),(37.8,-38),(40.7,70),(45.3,27),(47.6,-27),(49.8,38),(52.7,38),(55,162),(57.9,243),(60.7,162),(62.8,38),(64.7,286),(66.4,205),(69.3,254),(71,632),(73.3,459),(76.2,308),(77.9,324),(79.9,162),(82.5,297),(85.9,173),(88.2,0),(89.9,-27),(92.2,-81),(94.5,-38),(96,-135),(97.6,-27),(99,27),(100.8,-27),(104.2,81),(107,146),(108.8,81),(112.2,162),(115,178),(117.9,270),(121.9,178),(123.7,81),(128.2,54),(130.5,27),(134,38),(136.2,124),(139.1,135),(140.2,0),(142,-16),(143.7,38),(147.1,54),(149.8,54),(152,108),(155.4,146),(157.6,92),(159.8,135),(163.2,97),(166.5,146),(169.3,54),(171.6,27),(174.9,27),(179.9,-146),(183.3,-189),(186.6,-173),(190,-108),(192.8,-16),(194.4,-65),(198.9,-54),(203.4,-38),(207.8,-27),(211.2,-27),(213.4,-108),(216.8,-216),(220.1,-254),(223.5,-200),(226.8,-151),(228.7,-81),(232.4,-97),(235.7,-146),(240.2,-65),(244.7,-178),(248,-108),(252.5,-216),(254.7,-232),(256.9,-108),(261.4,-65),(264.8,54),(268.1,0),(271.4,-27),(275.9,54),(279.8,108),(283.7,27),(289.3,81),(292.7,151),(298.2,178),(301.6,-27),(303.8,-65),(307.2,-54),(311.3,54),(316.6,27),(318.7,-27),(323.9,0),(328.1,54),(335.5,54),(337.6,-27),(343.9,27),(350.2,108),(356.6,27),(360.8,92),(365,-27),(370.2,0),(375.5,-81),(380.8,0),(383.9,0),(385,891),(388.1,972),(390.8,999),(394.5,810),(398.7,578),(400.3,686),(404,513),(407.6,297),(409.2,108),(412.4,54),(416,178),(418.7,38),(421.8,162),(427.1,38),(430.3,81),(432.9,-54),(439.2,-119),(441.8,-70),(445,-108),(448.1,-200)]
grid_minutes = [0,30,60,90,120,150,180,210,240,270,300,330,360,388,418,448]
time_ticks = [0,30,60,90,120,150,180,210,240,270,300,388,418]
time_labels = ["<b>14:00</b>","14:30","<b>15:00</b>","15:30","<b>16:00</b>","16:30","<b>17:00</b>","17:30","<b>18:00</b>","18:30","<b>19:00</b>","20:30","<b>21:00</b>"]
price_ticks = [25000,24900,24800,24700,24600,24500,24400]

# ---------- colours & helpers ----------
LIME,RED,YEL,BLK,DRED,DGRN="#76ff4b","#ee3524","#ffff4d","#000000","#7a130d","#3a7d22"
CODE={'l':LIME,'r':RED,'y':YEL,'k':BLK,'d':DRED,'g':DGRN}
W,H,PW=2236,1432,2110
INK="#131722"
FONT="Inter"
def px(x): return x/W
def py(y): return 1-y/H
def dom(t,b): return [py(b),py(t)]
def X(p): return [a for a,b in p]
def Y(p): return [b for a,b in p]
minutes=list(range(-25,449))
def expand(runs):
    out=[];i=0
    for m in minutes:
        while i<len(runs)-1 and m>runs[i][1]: i+=1
        out.append(runs[i][0])
    return out
def between(p,a,b): return [q for q in p if a<=q[0]<=b]

fig=go.Figure()
def dots(x,y,color,size,ax="y",symbol="circle",lw=0,lc=None):
    m=dict(color=color,size=size,symbol=symbol,line=dict(width=lw,color=lc or color))
    fig.add_trace(go.Scatter(x=x,y=y,mode="markers",marker=m,yaxis=ax,hoverinfo="skip",showlegend=False))
def line(p,color,width,ax="y",dash=None):
    fig.add_trace(go.Scatter(x=X(p),y=Y(p),mode="lines",line=dict(color=color,width=width,dash=dash),yaxis=ax,hoverinfo="skip",showlegend=False))
def label(x,y,text,size,ax,color=INK,font="Liberation Sans"):
    fig.add_trace(go.Scatter(x=[x],y=[y],mode="text",text=[text],textposition="middle center",textfont=dict(size=size,color=color,family=font),yaxis=ax,hoverinfo="skip",showlegend=False,cliponaxis=True))

# watermark
label(212,24732,"FDAX1!",170,"y","#dcdde0",FONT)

# volume
cm,cc,ck=[],[],[]
for s,cl,kd in candle_blocks:
    for i,c in enumerate(cl):
        cm.append(s+i);cc.append(c);ck.append(kd[i] if i<len(kd) else 'r')
vm,vv=[],[]
for s,vals in volume_blocks:
    for i,v in enumerate(vals):
        vm.append(s+i);vv.append(v)
kind_by_min=dict(zip(cm,ck))
fig.add_trace(go.Bar(x=vm,y=vv,width=0.55,marker=dict(color=["rgba(238,90,85,.22)" if kind_by_min.get(m,'r')=='r' else "rgba(60,160,150,.22)" for m in vm],line=dict(width=0)),yaxis="y8",hoverinfo="skip",showlegend=False))

# cloud fills
def poly(upper,lower,a,b,color):
    u=between(upper,a,b);l=between(lower,a,b)[::-1]
    fig.add_trace(go.Scatter(x=X(u)+X(l),y=Y(u)+Y(l),mode="none",fill="toself",fillcolor=color,hoverinfo="skip",showlegend=False))
PINK,GRN="rgba(224,64,251,.07)","rgba(118,255,75,.08)"
poly(magenta_line,red_line,-14,56,PINK)
poly(red_line,magenta_line,60,172,GRN)
poly(magenta_line,red_line,172,268,PINK)
poly(red_line,magenta_line,270,345,GRN)
poly(green_line,magenta_line,393,410.5,GRN)
poly(red_line,magenta_line,411,447,GRN)

# faint lines
line(gray_line,"rgba(90,90,90,.33)",2)
line(lavender_line,"rgba(70,70,255,.33)",2)
line(salmon_line,"rgba(238,60,50,.3)",2)
line(pale_green_line,"rgba(100,240,70,.33)",2)

# main lines
line(magenta_line,"#e838f0",2.2)
line(green_line,"#76ff4b",2)
line(red_line,RED,4.5)
line(blue_line,"#0000e6",4)

# candles (on top of the lines)
BODY={'r':"#e0484d",'g':LIME,'k':BLK}
WICK={'r':"#e0484d",'g':"#4a9a85",'k':BLK}
seg={k:dict(wx=[],wy=[],bx=[],by=[]) for k in 'rgk'}
prev=cc[0]+3
for m,c,k in zip(cm,cc,ck):
    o=prev; prev=c
    if o==c: o=c+2
    hi=candle_highs.get(m,max(o,c)+2); lo=candle_lows.get(m,min(o,c)-2)
    s=seg[k]
    s['wx']+=[m,m,None]; s['wy']+=[lo,hi,None]
    s['bx']+=[m,m,None]; s['by']+=[o,c,None]
for k,s in seg.items():
    fig.add_trace(go.Scatter(x=s['wx'],y=s['wy'],mode="lines",line=dict(color=WICK[k],width=2),hoverinfo="skip",showlegend=False))
for k,s in seg.items():
    fig.add_trace(go.Scatter(x=s['bx'],y=s['by'],mode="lines",line=dict(color=BODY[k],width=4),hoverinfo="skip",showlegend=False))

line(trend_down,"#e0484d",4)
line(trend_up,"#e0484d",4)

# signals
def sig(p,color,size,symbol="circle",lw=0):
    dots(X(p),Y(p),color,size,"y",symbol,lw)
sig(sig_orange,"#f5a150",25)
sig(sig_lime,LIME,26)
sig(sig_lime_ring,LIME,19,"circle-open",5.5)
sig(sig_gray_ring,"#8c8c8c",17,"circle-open",5)
sig(sig_gray,"#8c8c8c",25)
sig(sig_gray_halo,"#8c8c8c",24)
sig(sig_gray_mid,"#8c8c8c",13)
sig(sig_cyan,"#6ee7ff",17)
sig(sig_yellow,"#ffff4d",17)
sig(sig_blue,"#0000e6",16)
sig(sig_dark_red,"#7c3a30",10)
sig(sig_black,BLK,16)
sig(sig_black_cut,"#ffffff",13)
sig(sig_magenta,"#e832f0",18)
sig(sig_dark_green,"#39761f",17)
sig(sig_mid_green,"#5aad78",17)
sig(sig_green_cross,"#4caf7d",18,"cross")
sig(sig_red_cross,RED,20,"cross")
sig(sig_small_gray,"#8c8c8c",7)

# status pane
y2_rows=[(big_point,14),(row1,11.5),(row2,10.5),(row3,9.5),(row4,8.5),(row5,7.5),(row6,6.5)]
bp=expand(big_point)
bp_size=[17 if c in 'dg' else (13 if c=='k' else 12) for c in bp]
fig.add_trace(go.Scatter(x=minutes,y=[14]*len(minutes),mode="lines",line=dict(color=LIME,width=12),yaxis="y2",hoverinfo="skip",showlegend=False))
fig.add_trace(go.Scatter(x=minutes,y=[14]*len(minutes),mode="markers",marker=dict(color=[CODE[c] for c in bp],size=bp_size,line=dict(width=0)),yaxis="y2",hoverinfo="skip",showlegend=False))
for runs,v in y2_rows[1:]:
    cols=expand(runs)
    fig.add_trace(go.Scatter(x=minutes,y=[v]*len(minutes),mode="markers",marker=dict(color=[CODE[c] for c in cols],size=16.5,line=dict(width=0)),yaxis="y2",hoverinfo="skip",showlegend=False))
label(212,15.2,"ICE Trading Deluxe Big Point",25,"y2")
label(212.5,12.7,"Von oben: Status / Kerzenfarbe / Wolkenfarbe / Trend / Setter / Welle",25,"y2")

# DNA pane
def dna(d,color,size):
    xs,ys=[],[]
    for lv,ms in d.items():
        xs+=ms; ys+=[lv]*len(ms)
    dots(xs,ys,color,size,"y3")
dna(dna_pink,"#ee90e8",17)
dna(dna_dark_green,DGRN,17)
dna(dna_orange,"#f8c444",17)
dna(dna_lime,LIME,17)
dna(dna_cyan,"#76ffff",17)
dna(dna_magenta,"#e832f0",17)
dna(dna_red,RED,17)
dna(dna_blue,"#0000e6",17)
dna(dna_black,BLK,17)
dna(dna_gray,"#8c8c8c",12)
dna(dna_small_lime,LIME,9)
dna(dna_small_red,RED,9)
dna(dna_small_cyan,"#76ffff",9)
for lv,col in zip(dna_levels,dna_level_colors):
    line([(minutes[0],lv),(minutes[-1],lv)],col,2,"y3","10px,15px")
label(212,5.5,"ICE DNA Code",25,"y3")

# Momentum pane
for runs,v in ((mom1,-0.6),(mom2,-1.8),(mom3,-3.0)):
    cols=expand(runs)
    big=[{'l':LIME,'t':LIME,'r':RED,'n':RED}[c] for c in cols]
    fig.add_trace(go.Scatter(x=minutes,y=[v]*len(minutes),mode="markers",marker=dict(color=big,size=16.5,line=dict(width=0)),yaxis="y4",hoverinfo="skip",showlegend=False))
    xs=[m for m,c in zip(minutes,cols) if c in 'tn']
    cs=[{'t':RED,'n':LIME}[c] for c in cols if c in 'tn']
    fig.add_trace(go.Scatter(x=xs,y=[v]*len(xs),mode="markers",marker=dict(color=cs,size=8,line=dict(width=0)),yaxis="y4",hoverinfo="skip",showlegend=False))
label(212,0.38,"Momentum Status Indikator",25,"y4")

# RSI pane
rz=[(385,70)]+between(rsi_line,385,408)+[(408,70)]
fig.add_trace(go.Scatter(x=X(rz),y=Y(rz),mode="none",fill="toself",fillgradient=dict(type="vertical",colorscale=[[0,"rgba(118,255,75,0)"],[1,"rgba(70,150,70,.55)"]]),yaxis="y5",hoverinfo="skip",showlegend=False))
line(rsi_ma,"#f7d75e",2,"y5")
line(rsi_line,"#7e57c2",2,"y5")

# Flow pane
gx,gy,rx,ry=[],[],[],[]
for (a,av),(b,bv) in zip(flow_line,flow_line[1:]):
    if (av+bv)>=0: gx+=[a,b,None]; gy+=[1+av/1e5,1+bv/1e5,None]
    else: rx+=[a,b,None]; ry+=[1+av/1e5,1+bv/1e5,None]
fig.add_trace(go.Scatter(x=gx,y=gy,mode="lines",line=dict(color=LIME,width=3.5),yaxis="y6",hoverinfo="skip",showlegend=False))
fig.add_trace(go.Scatter(x=rx,y=ry,mode="lines",line=dict(color=RED,width=3.5),yaxis="y6",hoverinfo="skip",showlegend=False))

# ---------- shapes ----------
shapes=[]
def L(x0,y0,x1,y1,color,w=2,dash=None,layer="above",xref="paper",yref="paper"):
    shapes.append(dict(type="line",xref=xref,yref=yref,x0=x0,y0=y0,x1=x1,y1=y1,line=dict(color=color,width=w,dash=dash),layer=layer))
for t in grid_minutes:
    L(t,py(1380),t,1,"#f0f3fa",2,layer="below",xref="x")
for p in price_ticks:
    L(0,p,px(PW),p,"#f0f3fa",2,layer="below",yref="y")
L(0,0,px(PW),0,"#f0f3fa",2,layer="below",yref="y4")
L(0,1.01,px(PW),1.01,"#f0f3fa",2,layer="below",yref="y6")
for yy in (826.5,993,1099,1182.5,1284):
    L(0,py(yy),1,py(yy),"#e0e3eb",2.5,layer="below")
shapes.append(dict(type="rect",xref="paper",yref="y5",x0=0,x1=px(PW),y0=30,y1=70,fillcolor="#f0eef8",line=dict(width=0),layer="below"))
L(0,70,px(PW),70,"#787b86",2,"8px,8px",yref="y5")
L(0,50,px(PW),50,"#b2b5be",2,"8px,8px",yref="y5")
L(0,30,px(PW),30,"#787b86",2,"8px,8px",yref="y5")
L(0,1.0,px(PW),1.0,"#8a8c94",2.5,layer="below",yref="y6")
L(0,24896,px(PW),24896,"#000000",2,"dot",yref="y")
L(0,24855,px(2068),24855,"#9598a1",2,"8px,8px",yref="y")
L(345,py(1380),345,1,"#9598a1",2,"8px,8px",xref="x")
def rrect(x0,y0,x1,y1,r,line_c,fill="#ffffff",w=2):
    a,b,c,d=px(x0),py(y0),px(x1),py(y1)
    rx,ry=r/W,r/H
    path=f"M {a+rx} {b} L {c-rx} {b} Q {c} {b} {c} {b-ry} L {c} {d+ry} Q {c} {d} {c-rx} {d} L {a+rx} {d} Q {a} {d} {a} {d+ry} L {a} {b-ry} Q {a} {b} {a+rx} {b} Z"
    shapes.append(dict(type="path",xref="paper",yref="paper",path=path,line=dict(color=line_c,width=w),fillcolor=fill))
def circ(cx,cy,r,fill,lc=None,w=0):
    shapes.append(dict(type="circle",xref="paper",yref="paper",x0=px(cx-r),x1=px(cx+r),y0=py(cy+r),y1=py(cy-r),fillcolor=fill,line=dict(width=w,color=lc or fill)))
def pth(pts,color,w=2,closed=False,fill=None):
    s="M "+" L ".join(f"{px(a)} {py(b)}" for a,b in pts)+(" Z" if closed else "")
    d=dict(type="path",xref="paper",yref="paper",path=s,line=dict(color=color,width=w))
    if fill: d["fillcolor"]=fill
    shapes.append(d)
circ(32,28,17,"#3f68ab")
pth([(26,20),(38,36)],"#ffffff",2); pth([(38,20),(26,36)],"#ffffff",2)
circ(442,28,17,"#e3f2ef"); circ(442,28,8,"#4a9a85")
rrect(13,59,77,99,4,"#e0e3eb")
pth([(26,74),(32,81),(38,74)],INK,2)
rrect(1999,5,2045,51,6,"#e0e3eb")
pth([(2022,15),(2022,38)],INK,2); pth([(2014,30),(2022,38),(2030,30)],INK,2)
rrect(2055,5,2101,51,6,"#e0e3eb")
for a,b,c,d in ((2068,24,2068,18),(2088,24,2088,18),(2068,32,2068,38),(2088,32,2088,38)):
    pth([(a,b),(c,d),(2074 if a==2068 else 2082,d)],INK,2)
pth([(2074,18),(2082,18)],INK,2); pth([(2074,38),(2082,38)],INK,2)
rrect(2119,5,2240,55,6,"#e0e3eb")
pth([(2217,27),(2223,33),(2229,27)],INK,2)
rrect(13,1197,69,1237,5,"#e0e3eb")
pth([(33,1213),(41,1221),(49,1213)],INK,2.5)
circ(120,1213,18,"#e2dcf8")
shapes.append(dict(type="rect",xref="paper",yref="paper",x0=px(14),x1=px(84),y0=py(1356),y1=py(1320),fillcolor="#ffffff",line=dict(width=0)))
pth([(20,1322),(47,1322),(47,1352),(34,1352),(34,1334),(20,1334)],"#000000",0,True,"#000000")
circ(54,1330,7,"#0f0f0f")
pth([(67,1322),(80,1322),(67,1352),(54,1352)],"#000000",0,True,"#000000")
pth([(2171,1397),(2187,1397),(2194,1410),(2187,1423),(2171,1423),(2164,1410)],INK,2,True)
circ(2179,1410,4,"#ffffff",INK,2)

# ---------- annotations ----------
ann=[]
def T(x,y,text,size=22,color=INK,anchor="left",bg=None,w=None,h=None,font=FONT,border=None):
    d=dict(xref="paper",yref="paper",x=px(x),y=py(y),text=text,showarrow=False,xanchor=anchor,yanchor="middle",font=dict(size=size,color=color,family=font),borderpad=0)
    if bg: d["bgcolor"]=bg
    if w: d["width"]=w
    if h: d["height"]=h
    if border: d["bordercolor"]=border; d["borderwidth"]=2
    ann.append(d)
RT="#e5484d"
T(58,29,"DAX Futures · 1 · EUREX",31)
for x,t,c in ((477,"O",INK),(499,"24,605",RT),(599,"H",INK),(621,"24,605",RT),(720,"L",INK),(739,"24,600",RT),(838,"C",INK),(860,"24,603",RT),(958,"−6",RT),(1001,"(−0.02%)",RT)):
    T(x,29,t,25.5,c)
T(53,79,"3",24,INK,"left")
T(2124,30,"EUR",24)
for p,lab in ((25000,"25,000"),(24800,"24,800"),(24700,"24,700"),(24600,"24,600"),(24500,"24,500"),(24400,"24,400")):
    T(2170,344+(24800-p)*1.1875-2,lab,24,INK,"center")
T(2143,886,"12",24,INK,"center")
T(2135,953,"8",24,INK,"center")
T(2135,1050,"0",24,INK,"center")
T(2135,1108,"0",24,INK,"center")
T(2170,1184,"100.00",24,INK,"center")
T(2170,1176.5,"-",9,"#ffffff","center",bg="#ffffff",w=125,h=9)
T(2138,1171,"−3",24,INK,"center")
T(2170,1293,"1.01000",24,INK,"center")
T(2170,1355,"1.00000",24,INK,"center")
T(2071,93,"High",24,INK,"center",bg="#e3eefa",w=60,h=34)
T(2164,93,"25,010",24,INK,"center",bg="#e3eefa",w=116,h=34)
T(2078,753,"Low",24,INK,"center",bg="#e3eefa",w=60,h=32)
T(2169,753,"24,455",24,INK,"center",bg="#e3eefa",w=106,h=32)
T(2166,195,"24,917",24,"#ee3524","center",bg="#ffffff",w=106,h=28,border="#ee3524")
T(2166,244,"24,896<br>00:15",24,"#ffffff","center",bg="#000000",w=110,h=62)
T(2166,279,"24,855",24,"#ffffff","center",bg="#131722",w=110,h=41)
T(2089,279,"⊕",32,"#ffffff","center",bg="#131722",w=42,h=41,font="DejaVu Sans")
T(1650,1403.5," ",10,"#ffffff","center",bg="#131722",w=301,h=47)
T(1650,1409,"Wed 21 Jan '26   19:45",25,"#ffffff","center")
T(2077,1409,"21:",24,INK,"left")
T(120,1213,"↻",36,"#5a2bf0","center",font="DejaVu Sans")

fig.update_layout(
    width=W,height=H,margin=dict(l=0,r=0,t=0,b=0),paper_bgcolor="#ffffff",plot_bgcolor="rgba(0,0,0,0)",
    showlegend=False,shapes=shapes,annotations=ann,barmode="overlay",hovermode=False,
    xaxis=dict(domain=[0,px(PW)],range=[-25.1,448.2],anchor="y6",tickmode="array",tickvals=time_ticks,ticktext=time_labels,
               tickfont=dict(family=FONT,size=24.5,color=INK),showgrid=False,zeroline=False,showline=False,ticks="",ticklabelstandoff=13,fixedrange=True),
    yaxis=dict(domain=dom(0,826),range=[24394.1,25089.7],visible=False,fixedrange=True),
    yaxis8=dict(domain=dom(0,826),range=[0,826],visible=False,overlaying="y",fixedrange=True),
    yaxis2=dict(domain=dom(828,993),range=[5.61,15.46],visible=False,fixedrange=True),
    yaxis3=dict(domain=dom(995,1099),range=[-5,5.5],visible=False,fixedrange=True),
    yaxis4=dict(domain=dom(1100,1182),range=[-3.47,0.38],visible=False,fixedrange=True),
    yaxis5=dict(domain=dom(1183,1284),range=[11,100],visible=False,fixedrange=True),
    yaxis6=dict(domain=dom(1285,1380),range=[0.9960,1.01145],visible=False,fixedrange=True),
)
fig.write_html("out.html",config={"displayModeBar":False},post_script="document.body.style.margin='0';document.body.style.overflow='hidden';")
